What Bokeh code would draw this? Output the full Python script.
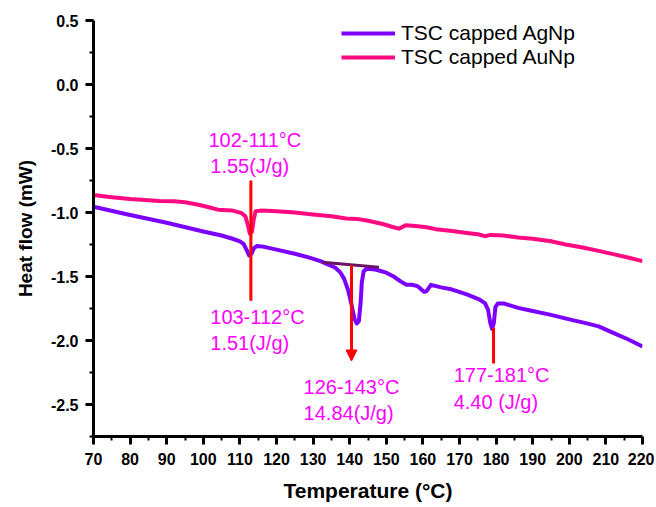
from bokeh.plotting import figure
from bokeh.models import (Range1d, FixedTicker, Legend, LegendItem, Arrow,
                          NormalHead, ColumnDataSource)
from bokeh.embed import file_html
from bokeh.resources import INLINE
from bokeh.core.properties import value

# ---------------- data ----------------
au_temp = [70, 75, 80, 85, 88, 92, 95, 98, 101, 104, 108, 110.5, 111.5, 112.2,
           112.7, 113.3, 113.8, 114.3, 116, 120, 125, 130, 135, 139, 142, 145,
           149, 152, 153.5, 155.3, 158, 161, 163.5, 168, 172, 175, 177, 178.5,
           182, 186, 190, 195, 199, 204, 208, 212, 216, 220]
au_flow = [-0.864, -0.88, -0.895, -0.905, -0.91, -0.912, -0.92, -0.935, -0.955,
           -0.978, -0.985, -1.005, -1.03, -1.10, -1.165, -1.15, -1.05, -0.99,
           -0.985, -0.99, -1.0, -1.015, -1.03, -1.047, -1.05, -1.065, -1.09,
           -1.115, -1.126, -1.10, -1.105, -1.115, -1.13, -1.145, -1.16, -1.17,
           -1.185, -1.175, -1.18, -1.195, -1.205, -1.225, -1.25, -1.275, -1.3,
           -1.325, -1.352, -1.38]

ag_temp = [70, 80, 90, 100, 105, 108, 110, 111, 111.8, 112.5, 113.2, 113.8,
           114.6, 116, 120, 125, 129, 132, 134, 136, 137.5, 138.5, 139.5, 140.5,
           141.3, 141.9, 142.5, 143, 143.3, 143.8, 144.6, 147, 150, 152, 154,
           155.5, 157, 158.5, 160.3, 161, 162.2, 165, 168, 172, 175.5, 177,
           177.8, 178.4, 178.9, 179.4, 179.8, 180.5, 182, 186, 190, 195, 200,
           204.5, 208, 212, 216, 220]
ag_flow = [-0.955, -1.02, -1.08, -1.148, -1.18, -1.205, -1.225, -1.245, -1.29,
           -1.335, -1.32, -1.28, -1.262, -1.265, -1.29, -1.322, -1.353, -1.38,
           -1.405, -1.43, -1.47, -1.52, -1.6, -1.72, -1.83, -1.867, -1.85, -1.70,
           -1.55, -1.46, -1.44, -1.445, -1.47, -1.5, -1.54, -1.565, -1.565,
           -1.575, -1.62, -1.615, -1.565, -1.585, -1.602, -1.64, -1.68, -1.71,
           -1.76, -1.86, -1.91, -1.86, -1.74, -1.71, -1.71, -1.745, -1.77, -1.80,
           -1.835, -1.864, -1.89, -1.94, -1.99, -2.047]

series_names = ["TSC capped AgNp", "TSC capped AuNp"]

x_ticks = list(range(70, 221, 10))
x_minor = list(range(75, 220, 10))
y_ticks = [0.5, 0.0, -0.5, -1.0, -1.5, -2.0, -2.5]
y_minor = [0.25, -0.25, -0.75, -1.25, -1.75, -2.25, -2.75]
y_tick_labels = {0.5: "0.5", 0.0: "0.0", -0.5: "-0.5", -1.0: "-1.0",
                 -1.5: "-1.5", -2.0: "-2.0", -2.5: "-2.5"}

# annotation texts and anchor points
note_text = ["102-111\u00b0C", "1.55(J/g)", "103-112\u00b0C", "1.51(J/g)",
             "126-143\u00b0C", "14.84(J/g)", "177-181\u00b0C", "4.40 (J/g)"]
note_x = [101.4, 101.9, 101.9, 101.9, 127.4, 127.4, 168.4, 168.4]
note_y = [-0.43, -0.633, -1.82, -2.023, -2.36, -2.565, -2.273, -2.477]

# red marker lines (x, y_top, y_bottom)
mark_x = [113.0, 179.3]
mark_y0 = [-0.75, -1.90]
mark_y1 = [-1.69, -2.18]
# arrow at the large peak and its baseline tangent
arrow_x, arrow_y0, arrow_y1 = 140.5, -1.41, -2.16
tan_x = [132.5, 148.0]
tan_y = [-1.388, -1.427]

# ---------------- figure ----------------
FONT = "Liberation Sans"
p = figure(width=654, height=505, output_backend="svg", toolbar_location=None,
           x_range=Range1d(70, 220), y_range=Range1d(-2.75, 0.5),
           min_border_left=93, min_border_right=12, min_border_top=20,
           min_border_bottom=69)
p.outline_line_color = None
p.grid.visible = False
p.background_fill_color = "white"

for ax in (p.xaxis[0], p.yaxis[0]):
    ax.axis_line_width = 3
    ax.axis_line_color = "black"
    ax.major_tick_line_width = 3
    ax.minor_tick_line_width = 2
    ax.major_tick_out = 8
    ax.major_tick_in = 0
    ax.minor_tick_out = 4
    ax.minor_tick_in = 0
    ax.major_label_text_font = FONT
    ax.major_label_text_font_style = "bold"
    ax.major_label_text_font_size = "16px"
    ax.major_label_text_color = "black"
    ax.axis_label_text_font = FONT
    ax.axis_label_text_font_style = "bold"
    ax.axis_label_text_color = "black"

p.xaxis.axis_label_text_font_size = "21px"
p.yaxis.axis_label_text_font_size = "19px"
p.xaxis.ticker = FixedTicker(ticks=x_ticks, minor_ticks=x_minor)
p.yaxis.ticker = FixedTicker(ticks=y_ticks, minor_ticks=y_minor)
p.yaxis.major_label_overrides = y_tick_labels
p.xaxis.axis_label = "Temperature (\u00b0C)"
p.yaxis.axis_label = "Heat flow (mW)"
p.xaxis.major_label_standoff = 8
p.xaxis.axis_label_standoff = 11
p.yaxis.major_label_standoff = 7
p.yaxis.axis_label_standoff = 12

# curves
r_ag = p.line(ag_temp, ag_flow, line_color="#7B00FF", line_width=4,
              line_join="round")
r_au = p.line(au_temp, au_flow, line_color="#FF0A80", line_width=4,
              line_join="round")

# red markers
p.segment(x0=mark_x, y0=mark_y0, x1=mark_x, y1=mark_y1,
          line_color="#FF0000", line_width=3)
p.add_layout(Arrow(x_start=arrow_x, y_start=arrow_y0, x_end=arrow_x,
                   y_end=arrow_y1, line_color="#FF0000", line_width=3,
                   end=NormalHead(size=11, fill_color="#FF0000",
                                  line_color="#FF0000", line_width=1)))
p.line(tan_x, tan_y, line_color="#6B1463", line_width=3)

# annotation texts
src = ColumnDataSource(dict(x=note_x, y=note_y, t=note_text))
p.text(x="x", y="y", text="t", source=src, text_color="#FF00FF",
       text_font=value(FONT), text_font_size="20px",
       text_baseline="middle", text_align="left")

legend = Legend(items=[LegendItem(label=series_names[0], renderers=[r_ag]),
                       LegendItem(label=series_names[1], renderers=[r_au])],
                location=(248, 367), padding=0, margin=0, spacing=0,
                glyph_width=54, glyph_height=24, label_height=24,
                label_standoff=6, border_line_color=None,
                background_fill_alpha=0,
                label_text_font=FONT, label_text_font_size="21px",
                label_text_color="black")
p.add_layout(legend)

open("out.html", "w").write(file_html(p, INLINE))
